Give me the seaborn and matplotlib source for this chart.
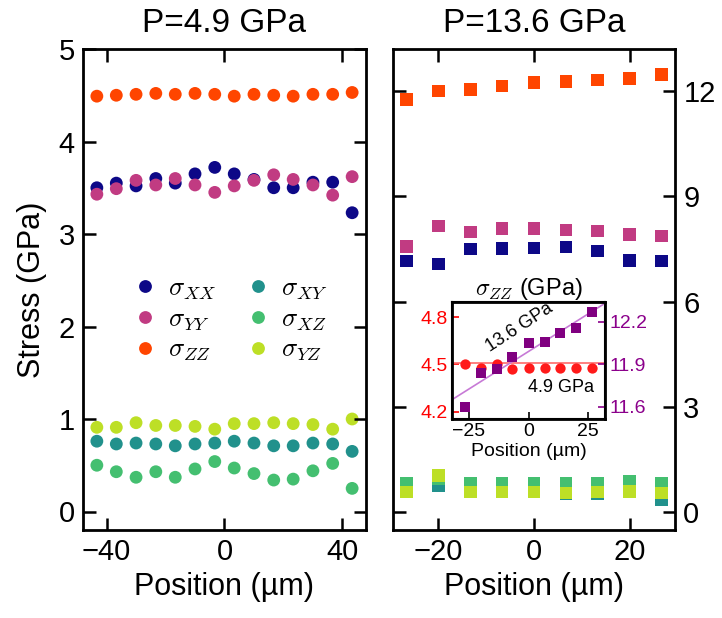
import numpy as np
import pandas as pd
import matplotlib
matplotlib.use('Agg')
import matplotlib.pyplot as plt
import seaborn as sns

plt.rcParams['font.family'] = ['Liberation Sans', 'DejaVu Sans']
plt.rcParams['mathtext.fontset'] = 'cm'
plt.rcParams['axes.linewidth'] = 2

components = [r'$\sigma_{XX}$', r'$\sigma_{YY}$', r'$\sigma_{ZZ}$',
              r'$\sigma_{XY}$', r'$\sigma_{XZ}$', r'$\sigma_{YZ}$']
colors = ['#0d0887', '#c13b82', '#ff4500', '#21918c', '#44bf70', '#bddf26']

# P = 4.9 GPa
pos_low = [-43.3, -36.7, -30.0, -23.3, -16.7, -10.0, -3.3, 3.3, 10.0, 16.7, 23.3, 30.0, 36.7, 43.3]
xx_low = [3.50, 3.55, 3.52, 3.60, 3.55, 3.65, 3.72, 3.65, 3.59, 3.50, 3.50, 3.56, 3.56, 3.23]
yy_low = [3.43, 3.49, 3.58, 3.53, 3.60, 3.53, 3.45, 3.52, 3.58, 3.64, 3.59, 3.53, 3.42, 3.62]
zz_low = [4.49, 4.50, 4.51, 4.52, 4.51, 4.52, 4.51, 4.49, 4.51, 4.50, 4.49, 4.51, 4.51, 4.53]
xy_low = [0.76, 0.73, 0.74, 0.73, 0.71, 0.73, 0.74, 0.76, 0.74, 0.71, 0.71, 0.74, 0.73, 0.65]
xz_low = [0.50, 0.43, 0.37, 0.43, 0.37, 0.46, 0.54, 0.47, 0.41, 0.34, 0.35, 0.44, 0.52, 0.25]
yz_low = [0.91, 0.91, 0.96, 0.93, 0.93, 0.92, 0.89, 0.95, 0.95, 0.96, 0.95, 0.94, 0.89, 1.00]

# P = 13.6 GPa
pos_high = [-26.7, -20.0, -13.3, -6.7, 0.0, 6.7, 13.3, 20.0, 26.7]
xx_high = [7.16, 7.07, 7.50, 7.52, 7.53, 7.56, 7.44, 7.18, 7.16]
yy_high = [7.58, 8.16, 7.99, 8.09, 8.09, 8.04, 8.01, 7.92, 7.87]
zz_high = [11.76, 12.01, 12.05, 12.14, 12.24, 12.27, 12.32, 12.36, 12.47]
xy_high = [0.58, 0.77, 0.58, 0.58, 0.58, 0.53, 0.52, 0.60, 0.37]
xz_high = [0.84, 0.96, 0.84, 0.84, 0.84, 0.82, 0.84, 0.88, 0.82]
yz_high = [0.58, 1.05, 0.58, 0.58, 0.58, 0.56, 0.58, 0.60, 0.56]

# inset: sigma_ZZ at both pressures
inset_low = [4.50, 4.48, 4.50, 4.47, 4.48, 4.475, 4.475, 4.475, 4.48]
inset_high = [11.60, 11.84, 11.87, 11.95, 12.05, 12.06, 12.12, 12.16, 12.27]


def long_table(pos, series):
    parts = [pd.DataFrame({'pos': pos, 'stress': vals, 'comp': name})
             for name, vals in zip(components, series)]
    return pd.concat(parts, ignore_index=True)


df_low = long_table(pos_low, [xx_low, yy_low, zz_low, xy_low, xz_low, yz_low])
df_high = long_table(pos_high, [xx_high, yy_high, zz_high, xy_high, xz_high, yz_high])

fig = plt.figure(figsize=(7.22, 6.18), dpi=100)
ax1 = fig.add_axes([83 / 722, 88 / 618, 283 / 722, 481 / 618])
ax2 = fig.add_axes([393 / 722, 88 / 618, 282 / 722, 481 / 618])

sns.scatterplot(data=df_low, x='pos', y='stress', hue='comp', hue_order=components,
                palette=colors, marker='o', s=85, linewidth=0, ax=ax1)
sns.scatterplot(data=df_high, x='pos', y='stress', hue='comp', hue_order=components,
                palette=colors, marker='s', s=80, linewidth=0, ax=ax2, legend=False)

ax1.set_xlim(-48, 48)
ax1.set_ylim(-0.2, 5.0)
ax1.set_xticks([-40, 0, 40])
ax1.set_yticks([0, 1, 2, 3, 4, 5])
ax1.set_xlabel('Position (µm)', fontsize=22)
ax1.set_ylabel('Stress (GPa)', fontsize=22, labelpad=8)
ax1.set_title('P=4.9 GPa', fontsize=24, pad=12)
ax1.tick_params(direction='in', length=9, width=1.8, top=True, right=True,
                labelsize=21, pad=6)

handles, labels = ax1.get_legend_handles_labels()
ax1.legend(handles, labels, ncol=2, frameon=False, fontsize=19, loc='center',
           bbox_to_anchor=(0.518, 0.437), handlelength=1.0, handletextpad=0.35,
           columnspacing=1.1, labelspacing=0.2, markerscale=1.0)

ax2.set_xlim(-29.5, 29.5)
ax2.set_ylim(-0.5, 13.2)
ax2.set_xticks([-20, 0, 20])
ax2.set_yticks([0, 3, 6, 9, 12])
ax2.set_xlabel('Position (µm)', fontsize=22)
ax2.set_ylabel('')
ax2.set_title('P=13.6 GPa', fontsize=24, pad=12)
ax2.yaxis.tick_right()
ax2.tick_params(direction='in', length=9, width=1.8, top=True, left=True, right=True,
                labelleft=False, labelright=True, labelsize=21, pad=6)

# inset
ax_in = fig.add_axes([452 / 722, 199 / 618, 153 / 722, 117 / 618])
for sp in ax_in.spines.values():
    sp.set_linewidth(1.5)
ax_tw = ax_in.twinx()

sns.scatterplot(x=pos_high, y=inset_low, color='#ff1a1a', marker='o', s=55,
                linewidth=0, ax=ax_in, zorder=3)
ax_in.axhline(np.mean(zz_low), color='#ff6b6b', lw=1.2, zorder=2)
ax_in.set_xlim(-32, 32)
ax_in.set_ylim(4.155, 4.895)
ax_in.set_xticks([-25, 0, 25])
ax_in.set_yticks([4.2, 4.5, 4.8])
ax_in.tick_params(axis='x', direction='in', length=5, width=1.2, labelsize=14, pad=3)
ax_in.tick_params(axis='y', direction='in', length=5, width=1.2, labelsize=14, pad=3,
                  colors='#ff0000')
ax_in.set_xlabel('Position (µm)', fontsize=14, labelpad=2)
ax_in.set_title(r'$\sigma_{ZZ}$ (GPa)', fontsize=17, pad=4)

fit = np.polyfit(pos_high, inset_high, 1)
xr = np.array(ax_in.get_xlim())
ax_tw.plot(xr, np.polyval(fit, xr), color='#c77ad6', lw=1.2)
sns.scatterplot(x=pos_high, y=inset_high, color='#800080', marker='s', s=60,
                linewidth=0, ax=ax_tw, zorder=3)
ax_tw.set_ylim(11.515, 12.34)
ax_tw.set_yticks([11.6, 11.9, 12.2])
ax_tw.tick_params(axis='y', direction='in', length=5, width=1.2, labelsize=14, pad=3,
                  colors='#8b008b')
ax_tw.set_xlim(-32, 32)

ax_in.text(0.44, 0.78, '13.6 GPa', transform=ax_in.transAxes, fontsize=13,
           rotation=33, ha='center', va='center')
ax_in.text(0.71, 0.27, '4.9 GPa', transform=ax_in.transAxes, fontsize=13,
           ha='center', va='center')

fig.savefig('out.png', dpi=100)
